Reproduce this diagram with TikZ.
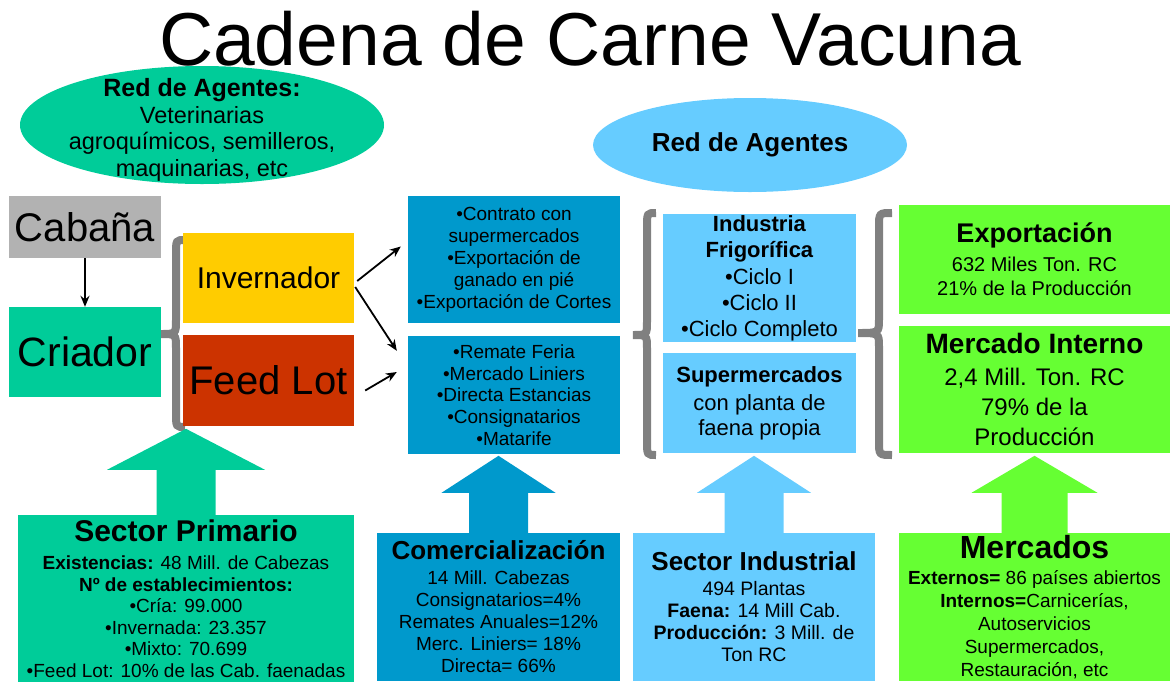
\documentclass[tikz,border=0pt]{standalone}
\usepackage{fontspec}
\setmainfont{Liberation Sans}
\usetikzlibrary{arrows.meta,calc}
\definecolor{verdeagua}{HTML}{00CC99}
\definecolor{grisclaro}{HTML}{B2B2B2}
\definecolor{amarillo}{HTML}{FFCC00}
\definecolor{ladrillo}{HTML}{CC3300}
\definecolor{azul}{HTML}{0099CC}
\definecolor{celeste}{HTML}{66CCFF}
\definecolor{verdelima}{HTML}{66FF33}
\definecolor{grisllave}{HTML}{808080}
\newcommand{\tam}[2]{\fontsize{#1}{#2}\selectfont}
\newcommand{\llave}[6]{\draw[llave] (#3,#4) .. controls (#2,#4) .. (#2,{#4+14}) -- (#2,{#5-14}) .. controls (#2,#5) .. (#1,#5) .. controls (#2,#5) .. (#2,{#5+14}) -- (#2,{#6-14}) .. controls (#2,#6) .. (#3,#6);}
\newcommand{\flechabloque}[6]{\fill[#1] (#2.north) ++(-#3,0) -- ++(0,-#5) -- ++({#3-#4},0) -- ++(#4,-#6) -- ++(#4,#6) -- ++({#3-#4},0) -- ++(0,#5) -- cycle;}
\tikzset{
  caja/.style n args={3}{fill=#1,minimum width=#2pt,minimum height=#3pt,inner sep=0pt,align=center},
  texto/.style={inner sep=0pt,align=center},
  llave/.style={draw=grisllave,line width=8pt},
  flechita/.style={-{Stealth[length=11pt,width=9pt]},line width=1.8pt}
}
\begin{document}
\begin{tikzpicture}[x=1pt,y=-1pt]
\useasboundingbox (0,0) rectangle (1170,681);
\node[texto,font=\tam{75}{80},anchor=base] (titulo) at (590,65) {Cadena de Carne Vacuna};
\fill[verdeagua] (202,125) ellipse [x radius=182pt,y radius=59pt];
\node[texto,font=\tam{23.5}{26.5}] (redA) at (202,130) {{\bfseries\tam{25}{26}Red de Agentes:}\\Veterinarias\\agroquímicos, semilleros,\\maquinarias, etc};
\fill[celeste] (750,145) ellipse [x radius=157pt,y radius=47pt];
\node[texto,font=\tam{26}{28}\bfseries] (redB) at (750,145) {Red de Agentes};
\llave{160}{176}{185}{240}{334}{427}
\llave{633}{647}{656}{213}{335}{455}
\llave{858}{879}{892}{213}{333}{455}
\node[caja={grisclaro}{152}{62},font=\tam{40}{44}] (cab) at (85,227) {Cabaña};
\node[caja={verdeagua}{152}{90},font=\tam{41}{44}] (cri) at (85,352) {Criador};
\node[caja={amarillo}{171}{90},font=\tam{30}{34}] (inv) at (268.5,278) {Invernador};
\node[caja={ladrillo}{171}{91},font=\tam{40}{44}] (fl) at (268.5,380.5) {Feed Lot};
\node[caja={azul}{212}{127},font=\tam{19}{22}] (upA) at (514,259.5) {•Contrato con\\supermercados\\•Exportación de\\ganado en pié\\•Exportación de Cortes};
\node[caja={azul}{212}{118},font=\tam{19}{21.8}] (loA) at (514,395) {•Remate Feria\\•Mercado Liniers\\•Directa Estancias\\•Consignatarios\\•Matarife};
\node[caja={celeste}{193}{128},font=\tam{22}{26}] (ind) at (759.5,278) {\textbf{Industria}\\\textbf{Frigorífica}\\[1pt]•Ciclo I\\•Ciclo II\\•Ciclo Completo};
\node[caja={celeste}{193}{100},font=\tam{22}{25}] (sup) at (759.5,403) {\textbf{Supermercados}\\[3pt]con planta de\\faena propia};
\node[caja={verdelima}{271}{109},font=\tam{20}{24}] (exp) at (1034.5,259.5) {{\bfseries\tam{27}{30}Exportación}\\[5pt]632 Miles Ton. RC\\21\% de la Producción};
\node[caja={verdelima}{271}{127},font=\tam{24}{30}] (mi) at (1034.5,389.5) {{\bfseries\tam{28}{30}Mercado Interno}\\[2pt]2,4 Mill. Ton. RC\\79\% de la\\Producción};
\draw[flechita] (cab) -- (cri);
\draw[flechita] ($(inv.east)+(3,3)$) -- ($(upA.west)+(-7,-13)$);
\draw[flechita] ($(inv.east)+(1,9)$) -- ($(loA.north west)+(-11,15)$);
\draw[flechita] ($(fl.east)+(11,10)$) -- ($(loA.west)+(-11,-23)$);
\node[caja={verdeagua}{336}{167},font=\tam{19}{21.5}] (sp) at (186,598.5) {{\bfseries\tam{30}{32}Sector Primario}\\[7pt]\textbf{Existencias:} 48 Mill. de Cabezas\\\textbf{Nº de establecimientos:}\\•Cría: 99.000\\•Invernada: 23.357\\•Mixto: 70.699\\•Feed Lot: 10\% de las Cab. faenadas};
\node[caja={azul}{243}{148},font=\tam{19}{22}] (com) at (498.5,607) {{\bfseries\tam{26}{28}Comercialización}\\[3pt]14 Mill. Cabezas\\Consignatarios=4\%\\Remates Anuales=12\%\\Merc. Liniers= 18\%\\Directa= 66\%};
\node[caja={celeste}{242}{148},font=\tam{19.5}{22}] (si) at (754,607) {{\bfseries\tam{26}{28}Sector Industrial}\\[3pt]494 Plantas\\\textbf{Faena:} 14 Mill Cab.\\\textbf{Producción:} 3 Mill. de\\Ton RC};
\node[caja={verdelima}{271}{148},font=\tam{19}{23}] (mer) at (1034.5,607) {{\bfseries\tam{32}{32}Mercados}\\[3pt]\textbf{Externos=} 86 países abiertos\\\textbf{Internos=}Carnicerías,\\Autoservicios\\Supermercados,\\Restauración, etc};
\flechabloque{verdeagua}{sp}{29.5}{79}{45}{41}
\flechabloque{azul}{com}{29.5}{57}{40}{37}
\flechabloque{celeste}{si}{29.5}{57}{40}{37}
\flechabloque{verdelima}{mer}{33}{63}{40}{37}
\end{tikzpicture}
\end{document}
